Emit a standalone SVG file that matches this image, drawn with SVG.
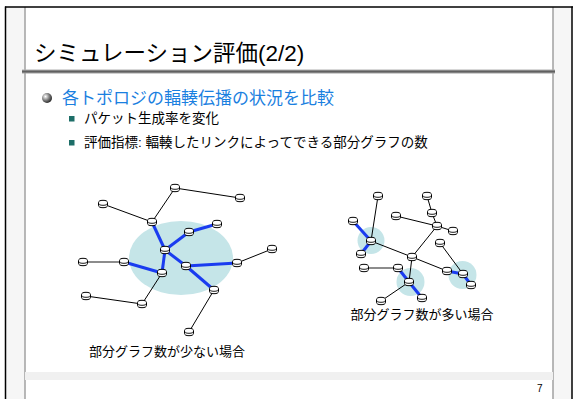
<svg xmlns="http://www.w3.org/2000/svg" width="573" height="399" viewBox="0 0 573 399">
<style>
text{font-family:"Liberation Sans","Noto Sans CJK JP",sans-serif;}
.ttl{font-size:22.5px;fill:#000;}
.b1{font-size:17px;fill:#1a80e0;}
.b2{font-size:13.5px;fill:#000;}
.lbl{font-size:13px;fill:#000;text-anchor:middle;}
.e{stroke:#000;stroke-width:1;fill:none;}
.g{stroke:#666;stroke-width:1.6;fill:none;}
.c{stroke:#1a3cf0;stroke-width:3;fill:none;}
.hl{fill:#c5e5e8;}
</style>
<defs>
<g id="nd"><path d="M-4.5,-1.3 v2.6 a4.5,2.4 0 0 0 9,0 v-2.6 a4.5,2.4 0 0 0 -9,0 z" fill="#fff" stroke="#000" stroke-width="1"/><path d="M-4.5,-0.9 a4.5,2.2 0 0 0 9,0" fill="none" stroke="#000" stroke-width="0.9"/></g>
<linearGradient id="bar" x1="0" y1="0" x2="0" y2="1"><stop offset="0" stop-color="#b0b0b0"/><stop offset="0.5" stop-color="#606060"/><stop offset="1" stop-color="#a0a0a0"/></linearGradient>
<radialGradient id="sph" cx="0.35" cy="0.35" r="0.7"><stop offset="0" stop-color="#fff"/><stop offset="0.5" stop-color="#888"/><stop offset="1" stop-color="#222"/></radialGradient>
</defs>
<g id="frame">
<rect x="0" y="0" width="573" height="399" fill="#fff"/>
<rect x="6" y="7" width="19" height="392" fill="#f6f6f6"/>
<rect x="553" y="7" width="19" height="392" fill="#f6f6f6"/>
<line x1="25" y1="7" x2="25" y2="399" stroke="#a0a0a0" stroke-width="1.5"/>
<line x1="553" y1="7" x2="553" y2="399" stroke="#a0a0a0" stroke-width="1.5"/>
<line x1="5.5" y1="6.5" x2="5.5" y2="399" stroke="#000" stroke-width="1.5"/>
<line x1="572" y1="6.5" x2="572" y2="399" stroke="#000" stroke-width="1.5"/>
<line x1="5" y1="7" x2="573" y2="7" stroke="#000" stroke-width="1.5"/>
<rect x="22" y="69.5" width="533" height="4" fill="url(#bar)"/>
<rect x="25" y="372" width="528" height="8" fill="#f0f0f0"/>
<text x="537" y="392" style="font-size:10px;fill:#000">7</text>
</g>
<g id="title"><text class="ttl" x="34" y="61">シミュレーション評価(2/2)</text></g>
<g id="bullets">
<circle cx="47" cy="98" r="5" fill="url(#sph)"/>
<text class="b1" x="62" y="104">各トポロジの輻輳伝播の状況を比較</text>
<rect x="69" y="116" width="5.5" height="5.5" fill="#1d6e68"/>
<text class="b2" x="84" y="123">パケット生成率を変化</text>
<rect x="69" y="140" width="5.5" height="5.5" fill="#1d6e68"/>
<text class="b2" x="84" y="147">評価指標: 輻輳したリンクによってできる部分グラフの数</text>
</g>
<g id="highlights">
<ellipse class="hl" cx="181" cy="258" rx="52" ry="37"/>
<circle class="hl" cx="371" cy="240.5" r="13.5"/>
<circle class="hl" cx="410.5" cy="282" r="14"/>
<circle class="hl" cx="462.5" cy="275" r="14"/>
</g>
<g id="connectors">
<line class="e" x1="175" y1="188" x2="240" y2="198"/>
<line class="e" x1="175" y1="188" x2="152" y2="222"/>
<line class="e" x1="103" y1="204" x2="152" y2="222"/>
<line class="g" x1="83" y1="262" x2="124" y2="262"/>
<line class="e" x1="237" y1="263" x2="272" y2="249"/>
<line class="e" x1="162" y1="273" x2="142" y2="304"/>
<line class="e" x1="86" y1="296" x2="142" y2="304"/>
<line class="e" x1="214" y1="290" x2="189" y2="332"/>
<line class="c" x1="152" y1="222" x2="165" y2="250"/>
<line class="c" x1="165" y1="250" x2="189" y2="232"/>
<line class="c" x1="189" y1="232" x2="217" y2="224"/>
<line class="c" x1="165" y1="250" x2="186" y2="266"/>
<line class="c" x1="186" y1="266" x2="237" y2="263"/>
<line class="c" x1="186" y1="266" x2="214" y2="290"/>
<line class="c" x1="165" y1="250" x2="162" y2="273"/>
<line class="c" x1="124" y1="262" x2="162" y2="273"/>
<line class="e" x1="378" y1="196" x2="371" y2="241"/>
<line class="c" x1="353" y1="221" x2="371" y2="241"/>
<line class="c" x1="371" y1="241" x2="361" y2="254"/>
<line class="e" x1="371" y1="241" x2="412" y2="257"/>
<line class="e" x1="412" y1="257" x2="437" y2="226"/>
<line class="e" x1="427" y1="196" x2="432" y2="213"/>
<line class="e" x1="432" y1="213" x2="437" y2="226"/>
<line class="e" x1="396" y1="216" x2="437" y2="226"/>
<line class="e" x1="437" y1="226" x2="453" y2="231"/>
<line class="e" x1="412" y1="257" x2="409" y2="282"/>
<line class="e" x1="412" y1="257" x2="447" y2="271"/>
<line class="c" x1="447" y1="271" x2="463" y2="274"/>
<line class="e" x1="440" y1="243" x2="463" y2="274"/>
<line class="c" x1="463" y1="274" x2="471" y2="285"/>
<line class="g" x1="364" y1="268" x2="398" y2="268"/>
<line class="c" x1="398" y1="268" x2="409" y2="282"/>
<line class="c" x1="409" y1="282" x2="422" y2="298"/>
<line class="e" x1="409" y1="282" x2="381" y2="301"/>
</g>
<g id="nodes-left">
<use href="#nd" x="175" y="188"/>
<use href="#nd" x="240" y="198"/>
<use href="#nd" x="103" y="204"/>
<use href="#nd" x="152" y="222"/>
<use href="#nd" x="217" y="224"/>
<use href="#nd" x="189" y="232"/>
<use href="#nd" x="165" y="250"/>
<use href="#nd" x="272" y="249"/>
<use href="#nd" x="83" y="262"/>
<use href="#nd" x="124" y="262"/>
<use href="#nd" x="237" y="263"/>
<use href="#nd" x="186" y="266"/>
<use href="#nd" x="162" y="273"/>
<use href="#nd" x="214" y="290"/>
<use href="#nd" x="142" y="304"/>
<use href="#nd" x="86" y="296"/>
<use href="#nd" x="189" y="332"/>
</g>
<g id="nodes-right">
<use href="#nd" x="378" y="196"/>
<use href="#nd" x="427" y="196"/>
<use href="#nd" x="432" y="213"/>
<use href="#nd" x="396" y="216"/>
<use href="#nd" x="353" y="221"/>
<use href="#nd" x="437" y="226"/>
<use href="#nd" x="453" y="231"/>
<use href="#nd" x="371" y="241"/>
<use href="#nd" x="440" y="243"/>
<use href="#nd" x="361" y="254"/>
<use href="#nd" x="412" y="257"/>
<use href="#nd" x="364" y="268"/>
<use href="#nd" x="398" y="268"/>
<use href="#nd" x="447" y="271"/>
<use href="#nd" x="463" y="274"/>
<use href="#nd" x="409" y="282"/>
<use href="#nd" x="471" y="285"/>
<use href="#nd" x="422" y="298"/>
<use href="#nd" x="381" y="301"/>
</g>
<g id="labels">
<text class="lbl" x="167" y="356">部分グラフ数が少ない場合</text>
<text class="lbl" x="422" y="319">部分グラフ数が多い場合</text>
</g>
</svg>
